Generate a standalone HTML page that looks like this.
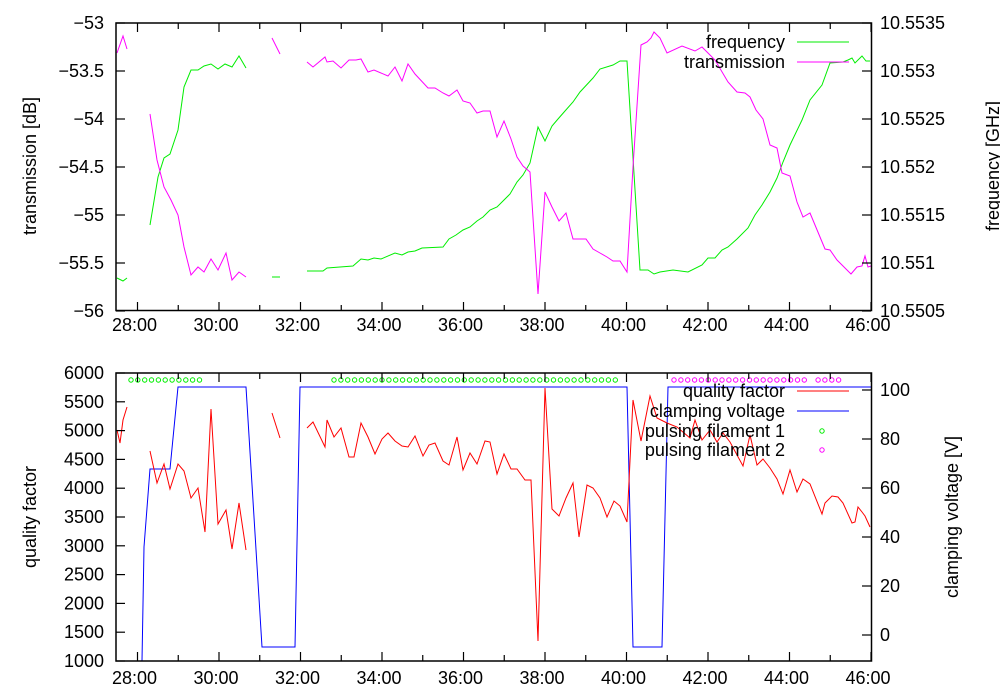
<!DOCTYPE html>
<html><head><meta charset="utf-8"><style>
html,body{margin:0;padding:0;background:#fff;}
svg{display:block;font-family:"Liberation Sans",Arial,sans-serif;font-size:18px;}
</style></head><body>
<svg id="s" width="1000" height="700" viewBox="0 0 1000 700" xmlns="http://www.w3.org/2000/svg">
<rect width="1000" height="700" fill="#fff"/>
<g fill="none" stroke-width="1">
<polyline stroke="#00ee00" points="117,278 123,281 127,278"/>
<polyline stroke="#00ee00" points="150,225 158,177 164,158 170,154 178,130 184,87 191,70 198,70 204,66 211,64 218,69 225,64 232,67 239,56 246,68"/>
<polyline stroke="#00ee00" points="272,277 280,277"/>
<polyline stroke="#00ee00" points="307,271 323,271 327,268 340,267 353,266 361,259 368,260 374,258 381,259 395,253 402,255 408,252 415,251 422,248 443,247 449,239 456,235 463,230 470,227 477,221 483,217 490,210 497,207 503,201 510,194 517,182 523,175 530,163 538,127 545,141 552,126 558,119 565,111 573,102 580,92 593,78 600,69 613,65 620,61 627,61 640,270 648,270 654,274 660,272 673,270 688,272 702,265 708,258 715,258 722,250 728,247 737,239 748,228 755,215 762,205 770,192 777,178 783,162 790,145 802,120 810,100 822,85 830,63 843,62 848,60 852,58 855,63 862,56 866,61 870,61"/>
<polyline stroke="#ff00ff" points="117,53 123,36 127,49"/>
<polyline stroke="#ff00ff" points="150,114 157,160 164,187 171,200 178,215 184,247 191,275 198,267 204,272 211,259 218,270 226,253 232,280 239,272 246,277"/>
<polyline stroke="#ff00ff" points="272,38 280,54"/>
<polyline stroke="#ff00ff" points="307,62 313,67 325,57 327,62 333,61 341,68 349,60 356,60 361,59 368,72 374,70 388,76 395,67 402,81 408,64 415,74 428,88 435,88 443,93 449,96 457,90 463,101 470,103 477,113 483,111 490,111 497,137 504,121 511,139 517,157 523,166 530,172 538,294 545,192 552,207 559,221 566,213 573,239 586,239 593,249 600,253 607,257 613,261 620,261 627,272 633,167 641,45 647,42 651,38 654,32 660,38 667,53 682,46 695,51 702,47 708,53 715,60 728,82 737,92 745,93 750,97 756,110 763,119 770,145 777,148 782,173 790,176 797,202 803,217 810,213 825,249 830,250 837,260 843,266 851,274 857,267 862,266 865,256 868,267 871,266"/>
<polyline stroke="#0000ff" points="142,661 144,547 150,469 170,469 178,387 246,387 262,647 295,647 300,387 627,387 633,647 662,647 668,387 871,387"/>
<polyline stroke="#ff0000" points="117,430 120,443 123,420 127,407"/>
<polyline stroke="#ff0000" points="150,451 157,483 164,464 170,489 178,464 184,471 191,498 198,488 205,532 211,409 218,524 226,510 232,549 239,503 246,550"/>
<polyline stroke="#ff0000" points="272,413 280,438"/>
<polyline stroke="#ff0000" points="307,428 313,422 325,447 327,420 334,437 341,428 349,457 354,457 361,423 368,437 375,454 382,439 388,433 395,441 402,446 408,447 415,436 423,456 429,445 435,443 443,461 449,465 457,437 463,470 470,453 477,464 485,441 490,442 497,474 504,454 511,469 517,469 525,480 531,480 538,641 545,388 552,509 559,516 566,498 573,483 579,537 587,485 593,488 600,498 607,517 614,501 620,506 627,522 633,400 641,441 650,396 657,418 667,423 677,427 690,438 695,420 702,440 710,430 717,442 723,433 730,442 737,455 743,466 750,435 757,465 763,459 770,468 777,479 783,494 790,470 797,492 803,479 810,484 822,514 825,503 832,496 838,497 843,503 852,523 855,522 858,507 862,512 865,516 870,527"/>
<g id="circ"></g>
<line x1="797" y1="42" x2="849" y2="42" stroke="#00ee00"/>
<line x1="797" y1="62" x2="849" y2="62" stroke="#ff00ff"/>
<line x1="797" y1="391" x2="849" y2="391" stroke="#ff0000"/>
<line x1="797" y1="411" x2="849" y2="411" stroke="#0000ff"/>
<circle cx="822" cy="431" r="2.2" stroke="#00ee00"/>
<circle cx="822" cy="450" r="2.2" stroke="#ff00ff"/>
<rect x="116" y="23" width="755.5" height="287.5" stroke="#000" stroke-width="1.5"/>
<rect x="116" y="373" width="755.5" height="288" stroke="#000" stroke-width="1.5"/>
<g id="ticks" stroke="#000" stroke-width="1.2"></g>
</g>
<g fill="#000">
<g id="lbl"></g>
<text x="785" y="48" text-anchor="end">frequency</text>
<text x="785" y="68" text-anchor="end">transmission</text>
<text x="785" y="397" text-anchor="end">quality factor</text>
<text x="785" y="417" text-anchor="end">clamping voltage</text>
<text x="785" y="437" text-anchor="end">pulsing filament 1</text>
<text x="785" y="456" text-anchor="end">pulsing filament 2</text>
<text transform="translate(36,166) rotate(-90)" text-anchor="middle">transmission [dB]</text>
<text transform="translate(999,166) rotate(-90)" text-anchor="middle">frequency [GHz]</text>
<text transform="translate(36,517) rotate(-90)" text-anchor="middle">quality factor</text>
<text transform="translate(958,517) rotate(-90)" text-anchor="middle">clamping voltage [V]</text>
</g>
</svg>
<script>
var NS="http://www.w3.org/2000/svg";
function el(p,t,a,txt){var e=document.createElementNS(NS,t);for(var k in a)e.setAttribute(k,a[k]);if(txt)e.textContent=txt;document.getElementById(p).appendChild(e);}
function circs(x0,x1,step,col,skip){for(var x=x0;x<=x1+0.1;x+=step){if(skip&&x>skip[0]&&x<skip[1])continue;el("circ","circle",{cx:x.toFixed(1),cy:380,r:2.2,stroke:col});}}
circs(131,206,6.85,"#00ee00");
circs(334,622,6.86,"#00ee00");
circs(674,845,6.86,"#ff00ff",[806,815]);
var s=40.75;
for(var i=0;i<=18;i++){var x=871-(18-i)*s;var L=(i%2==0)?6:4;
 [[23,311],[373,661]].forEach(function(b){el("ticks","line",{x1:x,y1:b[1],x2:x,y2:b[1]-L*1.5});el("ticks","line",{x1:x,y1:b[0],x2:x,y2:b[0]+L*1.5});});
 if(i%2==0){var m=28+i;var t=m+":00";el("lbl","text",{x:x-3,y:331,"text-anchor":"middle"},t);el("lbl","text",{x:x-3,y:684,"text-anchor":"middle"},t);}
}
var tl=["-53","-53.5","-54","-54.5","-55","-55.5","-56"],tr=["10.5535","10.553","10.5525","10.552","10.5515","10.551","10.5505"];
for(var i=0;i<7;i++){var y=23+i*48;el("ticks","line",{x1:116,y1:y,x2:125,y2:y});el("ticks","line",{x1:871,y1:y,x2:862,y2:y});
 el("lbl","text",{x:104,y:y+6,"text-anchor":"end"},tl[i].replace("-","\u2212"));el("lbl","text",{x:880,y:y+6},tr[i]);}
for(var i=0;i<=10;i++){var y=373+i*28.8;el("ticks","line",{x1:116,y1:y,x2:125,y2:y});el("lbl","text",{x:104,y:y+6,"text-anchor":"end"},String(6000-i*500));}
for(var i=0;i<=5;i++){var y=390+i*49;el("ticks","line",{x1:871,y1:y,x2:862,y2:y});el("lbl","text",{x:880,y:y+6},String(100-i*20));}
</script>
</body></html>
